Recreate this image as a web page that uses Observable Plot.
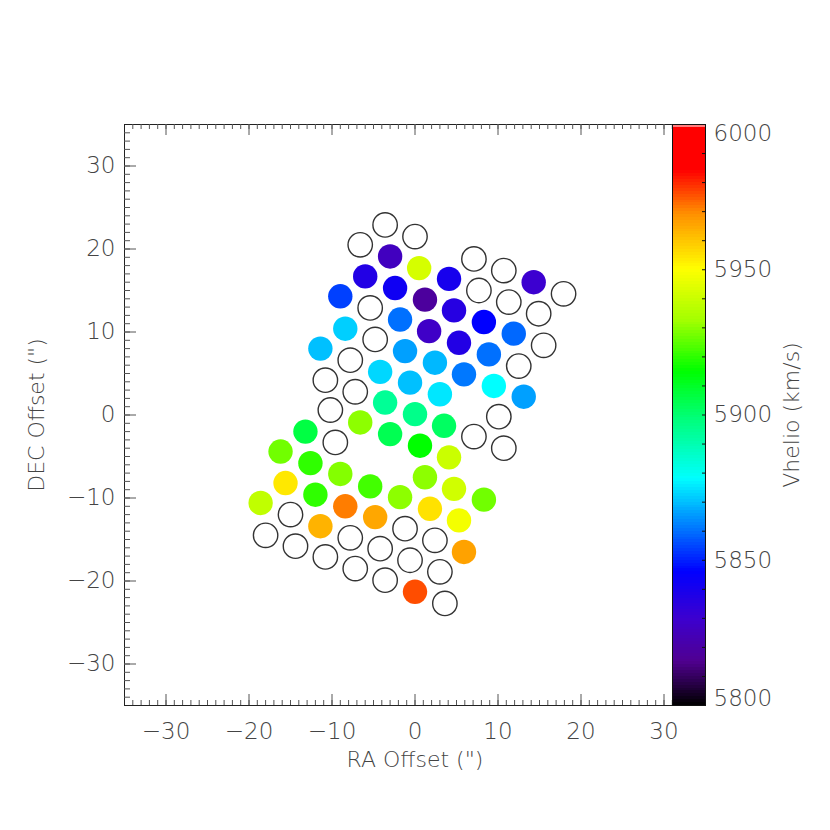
<!DOCTYPE html>
<html>
<head>
<meta charset="utf-8">
<script src="https://cdn.jsdelivr.net/npm/d3@7"></script>
<script src="https://cdn.jsdelivr.net/npm/@observablehq/plot@0.6"></script>
<style>
  html, body { margin: 0; padding: 0; background: white; overflow: hidden; }
  #wrap { position: relative; width: 830px; height: 830px; }
  #wrap svg { position: absolute; left: 0; top: 0; }
  #wrap g[aria-label="title"] text { letter-spacing: 1.5px; }
</style>
</head>
<body>
<div id="wrap"></div>
<script>
// ---- data: fibre offsets (arcsec) and heliocentric velocity (km/s; null = no measurement)
const ra = [
  -3.6, 0.0, -6.6, -3.0, 0.5, 7.1, 10.7, 14.3, 17.9,
  -6.0, -2.4, 1.2, 4.1, 7.7, 11.3, 14.9, 15.5,
  -9.0, -5.4, -1.8, 1.7, 4.7, 8.3, 11.9,
  -8.4, -4.8, -1.2, 2.4, 5.3, 8.9, 12.5,
  -11.4, -7.8, -4.2, -0.6, 3.0, 5.9, 9.5, 13.1,
  -10.8, -7.2, -3.6, 0.0, 10.1, -10.2,
  -13.2, -9.6, -6.6, -3.0, 0.6, 3.5, 7.1, 10.7,
  -16.2, -12.6, -9.0, -5.4, -1.8, 1.2, 4.1, 4.7, 8.3,
  -15.6, -12.0, -8.4, -4.8, -1.2, 1.8, 5.3,
  -18.6, -15.0, -11.4, -7.8, -4.2, -0.6, 2.4, 5.9,
  -18.0, -14.4, -10.8, -7.2, -3.6, 0.0, 3.0, 3.6
];
const dec = [
  22.9, 21.5, 20.5, 19.1, 17.7, 18.8, 17.4, 16.0, 14.6,
  16.7, 15.3, 13.9, 16.4, 15.0, 13.6, 12.2, 8.4,
  14.3, 12.9, 11.5, 10.1, 12.6, 11.2, 9.8,
  10.4, 9.1, 7.7, 6.3, 8.7, 7.3, 5.9,
  8.0, 6.6, 5.2, 3.9, 2.5, 4.9, 3.5, 2.2,
  4.2, 2.8, 1.5, 0.1, -0.2, 0.6,
  -2.0, -3.3, -0.9, -2.3, -3.7, -1.3, -2.6, -4.0,
  -4.4, -5.8, -7.1, -8.6, -9.9, -7.5, -5.1, -8.9, -10.2,
  -8.2, -9.6, -11.0, -12.3, -13.7, -11.3, -12.7,
  -10.6, -12.0, -13.4, -14.8, -16.1, -17.5, -15.1, -16.5,
  -14.5, -15.8, -17.1, -18.5, -19.9, -21.3, -18.9, -22.7
];
const vhelio = [
  null, null, null, 5826, 5942, null, null, 5830, null,
  5837, 5842, 5818, 5840, null, null, null, null,
  5854, null, 5860, 5828, 5836, 5846, 5859,
  5872, null, 5866, 5869, 5837, 5860, null,
  5870, null, 5873, 5870, 5875, 5861, 5878, 5866,
  null, null, 5894, 5896, null, null,
  5906, null, 5930, 5904, 5915, 5902, null, null,
  5927, 5920, 5929, 5922, 5930, 5930, 5940, 5941, 5927,
  5954, 5920, 5971, 5965, null, 5955, 5948,
  5938, null, 5963, null, null, null, null, 5966,
  null, null, null, null, null, 5976, null, null
];

// ---- axis ticks / labels
const xMajor = [-30, -20, -10, 0, 10, 20, 30];
const xMinor = d3.range(-34, 32);
const yMajor = [-30, -20, -10, 0, 10, 20, 30];
const yMinor = d3.range(-34, 35);
const cbLabels = [5850, 5900, 5950];
const cbTop = [6000];
const cbBottom = [5800];
const cbTicks = d3.range(5810, 6000, 10);

// ---- colour table (IDL rainbow-like)
const cStops  = [5800, 5815, 5830, 5846, 5864, 5878, 5890, 5900, 5915, 5932, 5950, 5969, 5984, 5999, 6000];
const cColors = ["#000000", "#500090", "#3c00d0", "#0000ff", "#0090ff", "#00ffff", "#00ffb0", "#00ff70",
                 "#00ff00", "#a0ff00", "#ffff00", "#ff9000", "#ff0000", "#ff0000", "#ffffff"];

const fibres = ra.map((x, i) => ({ra: x, dec: dec[i], v: vhelio[i]}));
const filled = fibres.filter(d => d.v != null);
const empty = fibres.filter(d => d.v == null);
const barSteps = d3.range(5800, 6000, 1);

const FONT = "'DejaVu Sans', sans-serif";
const TXT = "#444";
const W = 830, H = 830, ML = 124, MR = 125, MT = 124, MB = 125;
const frameW = W - ML - MR, frameH = H - MT - MB;
const colorOpt = {type: "linear", domain: cStops, range: cColors, interpolate: "rgb"};
const R = 12.2;

const main = Plot.plot({
  width: W, height: H,
  marginLeft: ML, marginRight: MR, marginTop: MT, marginBottom: MB,
  x: {domain: [-35, 35]},
  y: {domain: [-35, 35]},
  color: colorOpt,
  style: {fontFamily: FONT, fontWeight: 200, background: "white"},
  marks: [
    Plot.frame({stroke: "#222", strokeWidth: 1}),
    // inward ticks (bottom, top, left)
    Plot.tickX(xMinor, {x: d => d, insetTop: frameH - 5, stroke: "#555"}),
    Plot.tickX(xMajor, {x: d => d, insetTop: frameH - 11, stroke: "#555"}),
    Plot.tickX(xMinor, {x: d => d, insetBottom: frameH - 5, stroke: "#555"}),
    Plot.tickX(xMajor, {x: d => d, insetBottom: frameH - 11, stroke: "#555"}),
    Plot.tickY(yMinor, {y: d => d, insetRight: frameW - 6, stroke: "#555"}),
    Plot.tickY(yMajor, {y: d => d, insetRight: frameW - 12, stroke: "#555"}),
    // fibres
    Plot.dot(filled, {x: "ra", y: "dec", r: R, fill: "v", stroke: null}),
    Plot.dot(empty, {x: "ra", y: "dec", r: R, fill: "none", stroke: "#333", strokeWidth: 1.4}),
    // axes
    Plot.axisX({ticks: xMajor, tickSize: 0, tickPadding: 17, fontSize: 23, color: TXT, label: null}),
    Plot.axisY({ticks: yMajor, tickSize: 0, tickPadding: 9, fontSize: 23, color: TXT, label: null}),
    Plot.text(["RA Offset (\")"], {ariaLabel: "title", frameAnchor: "bottom", dy: 54, textAnchor: "middle", lineAnchor: "middle", fontSize: 22, fill: TXT}),
    Plot.text(["DEC Offset (\")"], {ariaLabel: "title", frameAnchor: "left", dx: -88, rotate: -90, textAnchor: "middle", fontSize: 22, fill: TXT})
  ]
});

const bar = Plot.plot({
  width: W, height: H,
  marginLeft: 672, marginRight: MR, marginTop: MT, marginBottom: MB,
  y: {domain: [5800, 6000], axis: null},
  color: colorOpt,
  style: {fontFamily: FONT, fontWeight: 200, background: "transparent"},
  marks: [
    Plot.rect(barSteps, {y1: d => d, y2: d => d + 1, fill: d => d + 0.5, shapeRendering: "crispEdges"}),
    Plot.frame({stroke: "#111", strokeWidth: 1}),
    Plot.tickY(cbTicks, {y: d => d, insetLeft: 30, stroke: "#111"}),
    Plot.text(cbLabels, {y: d => d, text: d => String(d), frameAnchor: "right", dx: 8, textAnchor: "start", fontSize: 23, fill: TXT}),
    Plot.text(cbTop, {y: d => d, text: d => String(d), frameAnchor: "right", dx: 8, textAnchor: "start", lineAnchor: "top", fontSize: 23, fill: TXT}),
    Plot.text(cbBottom, {y: d => d, text: d => String(d), frameAnchor: "right", dx: 8, textAnchor: "start", lineAnchor: "bottom", fontSize: 23, fill: TXT}),
    Plot.text(["Vhelio (km/s)"], {ariaLabel: "title", frameAnchor: "right", dx: 86, rotate: -90, textAnchor: "middle", fontSize: 22, fill: TXT})
  ]
});

const wrap = document.getElementById("wrap");
wrap.appendChild(main);
wrap.appendChild(bar);
</script>
</body>
</html>
